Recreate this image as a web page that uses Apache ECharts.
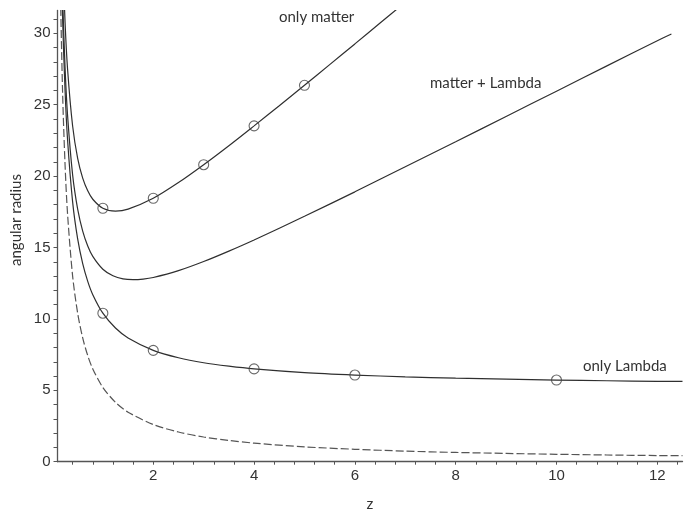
<!DOCTYPE html>
<html>
<head>
<meta charset="utf-8">
<script src="https://cdn.jsdelivr.net/npm/echarts@6/dist/echarts.min.js"></script>
<style>
html,body{margin:0;padding:0;background:#fff;}
#chart{width:687px;height:510px;}
</style>
</head>
<body>
<div id="chart"></div>
<script>
// ---- data ----
var xTickLabels = [2, 4, 6, 8, 10, 12];
var yTickLabels = [0, 5, 10, 15, 20, 25, 30];

var matterZ = [0.15,0.2,0.25,0.3,0.4,0.5,0.6,0.7,0.8,1,1.25,1.5,2,2.5,3,3.5,4,4.5,5,5.5,6,6.5,7];
var matterY = [44.3,35.81,30.78,27.49,23.51,21.25,19.86,18.97,18.38,17.75,17.55,17.69,18.45,19.55,20.8,22.13,23.52,24.93,26.36,27.81,29.26,30.72,32.18];

var mlZ = [0.12,0.15,0.2,0.25,0.3,0.4,0.5,0.6,0.7,0.8,1,1.2,1.4,1.6,1.8,2,2.5,3,3.5,4,5,6,7,8,9,10,11,12,12.28];
var mlY = [49.9,41.3,32.72,27.61,24.24,20.09,17.69,16.15,15.11,14.38,13.48,13.02,12.8,12.75,12.79,12.9,13.38,14.02,14.75,15.53,17.19,18.9,20.66,22.41,24.18,25.95,27.72,29.48,29.96];

var lambdaZ = [0.12,0.15,0.2,0.25,0.3,0.4,0.5,0.6,0.7,0.8,1,1.25,1.5,2,2.5,3,3.5,4,5,6,7,8,9,10,11,12,12.5];
var lambdaY = [48.53,39.87,31.2,26,22.53,18.2,15.6,13.87,12.63,11.7,10.4,9.36,8.67,7.8,7.28,6.93,6.69,6.5,6.24,6.07,5.94,5.85,5.78,5.72,5.67,5.63,5.62];

var dashZ = [0.12,0.15,0.2,0.25,0.3,0.4,0.5,0.6,0.7,0.8,1,1.25,1.5,2,2.5,3,3.5,4,5,6,7,8,9,10,11,12,12.5];
var dashY = [43.33,34.67,26,20.8,17.33,13,10.4,8.67,7.43,6.5,5.2,4.16,3.47,2.6,2.08,1.73,1.49,1.3,1.04,0.87,0.74,0.65,0.58,0.52,0.47,0.43,0.42];

var matterMarkZ = [1, 2, 3, 4, 5];
var matterMarkY = [17.75, 18.45, 20.8, 23.52, 26.36];
var lambdaMarkZ = [1, 2, 4, 6, 10];
var lambdaMarkY = [10.4, 7.8, 6.5, 6.07, 5.72];

var labels = ['only matter', 'matter + Lambda', 'only Lambda'];
var xName = 'z';
var yName = 'angular radius';

// ---- build ----
function pairs(xs, ys){ return xs.map(function(x,i){ return [x, ys[i]]; }); }
var xMinor = []; for (var i = 1; i <= 31; i++) xMinor.push(+(i*0.4).toFixed(1));
var yMinor = []; for (var j = 0; j <= 31; j++) yMinor.push(j);

var lineCol = '#2f2f2f';
var axisCol = '#555';
var lineBase = { type: 'line', showSymbol: false, symbol: 'none', smooth: 0.3, clip: true, animation: false };

var chart = echarts.init(document.getElementById('chart'), null, {renderer: 'canvas'});
chart.setOption({
  animation: false,
  backgroundColor: '#fff',
  grid: { left: 57.5, right: 4.5, top: 10.5, bottom: 48.3, containLabel: false, outerBoundsMode: 'none' },
  xAxis: {
    type: 'value', min: 0.1, max: 12.5,
    name: xName, nameLocation: 'middle', nameGap: 35,
    nameTextStyle: { fontFamily: 'Lato', fontSize: 15, color: '#333' },
    axisLine: { show: true, onZero: false, lineStyle: { color: axisCol, width: 1.3 } },
    axisTick: { show: true, inside: false, length: 3, customValues: xMinor, lineStyle: { color: axisCol } },
    axisLabel: { customValues: xTickLabels, margin: 7, fontFamily: 'Liberation Sans', fontSize: 15, color: '#333' },
    splitLine: { show: false }
  },
  yAxis: {
    type: 'value', min: 0, max: 31.6,
    axisLine: { show: true, onZero: false, lineStyle: { color: axisCol, width: 1.3 } },
    axisTick: { show: true, inside: false, length: 4, customValues: yMinor, lineStyle: { color: axisCol } },
    axisLabel: { customValues: yTickLabels, margin: 7, fontFamily: 'Liberation Sans', fontSize: 15, color: '#333' },
    splitLine: { show: false }
  },
  series: [
    Object.assign({}, lineBase, { name: 'only matter', data: pairs(matterZ, matterY), lineStyle: { color: lineCol, width: 1.2 } }),
    Object.assign({}, lineBase, { name: 'matter + Lambda', data: pairs(mlZ, mlY), lineStyle: { color: lineCol, width: 1.2 } }),
    Object.assign({}, lineBase, { name: 'only Lambda', data: pairs(lambdaZ, lambdaY), lineStyle: { color: lineCol, width: 1.2 } }),
    Object.assign({}, lineBase, { name: 'dashed', data: pairs(dashZ, dashY), lineStyle: { color: '#555', width: 1.2, type: [8, 3] } }),
    { type: 'scatter', data: pairs(matterMarkZ, matterMarkY), symbol: 'circle', symbolSize: 10,
      itemStyle: { color: 'rgba(0,0,0,0)', borderColor: '#444', borderWidth: 1.1 }, animation: false, z: 5 },
    { type: 'scatter', data: pairs(lambdaMarkZ, lambdaMarkY), symbol: 'circle', symbolSize: 10,
      itemStyle: { color: 'rgba(0,0,0,0)', borderColor: '#444', borderWidth: 1.1 }, animation: false, z: 5 }
  ],
  graphic: [
    { type: 'text', x: 16, y: 220, rotation: Math.PI / 2,
      style: { text: yName, font: '15px Lato', fill: '#333', align: 'center', verticalAlign: 'middle' } },
    { type: 'text', left: 279, top: 10, style: { text: labels[0], font: '15px Lato', fill: '#333' } },
    { type: 'text', left: 430, top: 76, style: { text: labels[1], font: '15px Lato', fill: '#333' } },
    { type: 'text', left: 583, top: 359, style: { text: labels[2], font: '15px Lato', fill: '#333' } }
  ]
});
</script>
</body>
</html>
